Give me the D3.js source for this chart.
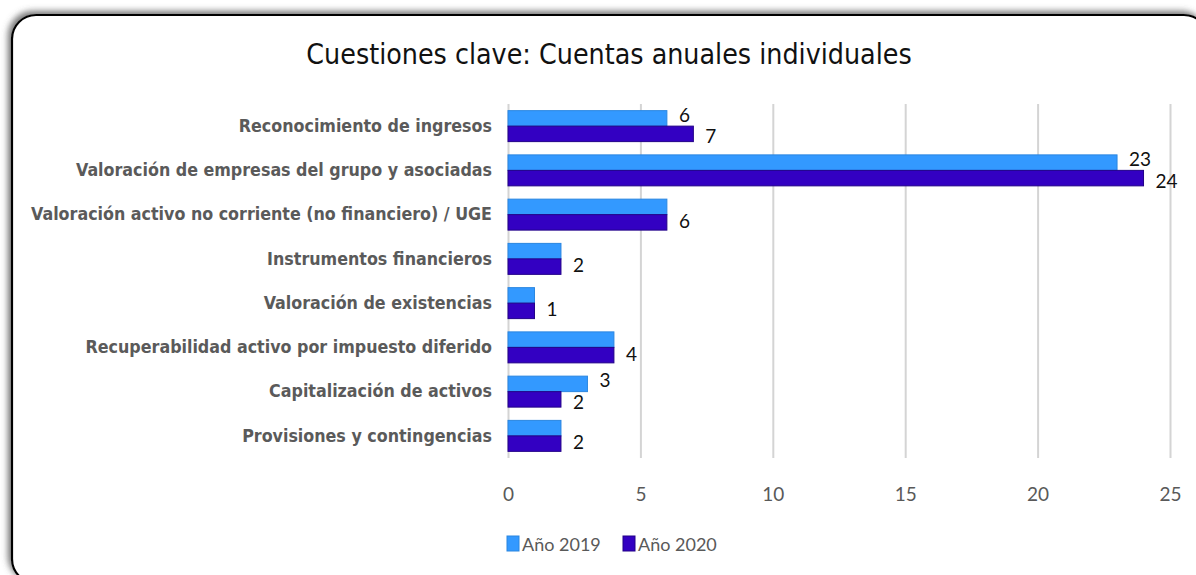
<!DOCTYPE html>
<html>
<head>
<meta charset="utf-8">
<script src="https://cdn.jsdelivr.net/npm/d3@7/dist/d3.min.js"></script>
<style>
  html, body { margin: 0; padding: 0; background: #fff; }
  svg { display: block; }
</style>
</head>
<body>
<svg id="chart" width="1196" height="575"></svg>
<script>
// Key audit matters: individual annual accounts
const title = "Cuestiones clave: Cuentas anuales individuales";
const categories = [
  "Reconocimiento de ingresos",
  "Valoración de empresas del grupo y asociadas",
  "Valoración activo no corriente (no financiero) / UGE",
  "Instrumentos financieros",
  "Valoración de existencias",
  "Recuperabilidad activo por impuesto diferido",
  "Capitalización de activos",
  "Provisiones y contingencias"
];
const seriesNames = ["Año 2019", "Año 2020"];
const values2019 = [6, 23, 6, 2, 1, 4, 3, 2];
const values2020 = [7, 24, 6, 2, 1, 4, 2, 2];
const xTicks = [0, 5, 10, 15, 20, 25];
const colors = ["#3399ff", "#3300c2"];
const strokes = ["#2a86e0", "#220088"];

const svg = d3.select("#chart");

// frame with soft shadow
const defs = svg.append("defs");
const f = defs.append("filter").attr("id", "shadow")
  .attr("x", "-5%").attr("y", "-5%").attr("width", "110%").attr("height", "110%");
f.append("feDropShadow").attr("dx", -3).attr("dy", -3)
  .attr("stdDeviation", 3).attr("flood-color", "#555").attr("flood-opacity", 0.8);

svg.append("rect")
  .attr("x", 12).attr("y", 15)
  .attr("width", 1196).attr("height", 568)
  .attr("rx", 24).attr("ry", 24)
  .attr("fill", "#fff").attr("stroke", "#000").attr("stroke-width", 2.2)
  .attr("filter", "url(#shadow)");

// title
svg.append("text")
  .attr("x", 609).attr("y", 64)
  .attr("text-anchor", "middle")
  .attr("font-family", "'DejaVu Sans Condensed', 'DejaVu Sans', sans-serif")
  .attr("font-stretch", "condensed")
  .attr("font-size", 28.3)
  .attr("fill", "#111")
  .text(title);

const plot = { left: 508, right: 1170, top: 104, bottom: 458 };

const x = d3.scaleLinear().domain([0, 25]).range([plot.left, plot.right]);
const y = d3.scaleBand().domain(categories).range([plot.top, plot.bottom]).paddingInner(0.3).paddingOuter(0.15);
const ySub = d3.scaleBand().domain(seriesNames).range([0, y.bandwidth()]);

// vertical gridlines via axis
const grid = svg.append("g")
  .attr("transform", `translate(0,${plot.bottom})`)
  .call(d3.axisBottom(x).tickValues(xTicks).tickSize(-(plot.bottom - plot.top)).tickFormat(""));
grid.select(".domain").remove();
grid.selectAll(".tick line").attr("stroke", "#d4d4d4").attr("stroke-width", 2);

// x tick labels
const xAxis = svg.append("g")
  .attr("transform", `translate(0,${plot.bottom})`)
  .call(d3.axisBottom(x).tickValues(xTicks).tickSize(0).tickPadding(30).tickFormat(d3.format("d")));
xAxis.select(".domain").remove();
xAxis.selectAll("text")
  .attr("font-family", "Lato, 'Open Sans', sans-serif")
  .attr("font-size", 19)
  .attr("fill", "#595959");

// category labels
const yAxis = svg.append("g")
  .attr("transform", `translate(${plot.left - 16},0)`)
  .call(d3.axisLeft(y).tickSize(0).tickPadding(0));
yAxis.select(".domain").remove();
yAxis.selectAll("text")
  .attr("font-family", "'DejaVu Sans Condensed', 'DejaVu Sans', sans-serif")
  .attr("font-stretch", "condensed")
  .attr("font-weight", "bold")
  .attr("font-size", 17.7)
  .attr("fill", "#5a5a5a");

// bars
const rows = categories.map((c, i) => ({ cat: c, vals: [values2019[i], values2020[i]] }));
const groups = svg.append("g").selectAll("g")
  .data(rows).join("g")
  .attr("transform", d => `translate(0,${y(d.cat)})`);

groups.selectAll("rect")
  .data(d => d.vals.map((v, k) => ({ v, k })))
  .join("rect")
  .attr("x", x(0))
  .attr("y", d => ySub(seriesNames[d.k]))
  .attr("width", d => x(d.v) - x(0))
  .attr("height", ySub.bandwidth())
  .attr("fill", d => colors[d.k])
  .attr("stroke", d => strokes[d.k])
  .attr("stroke-width", 1);

// value labels (one label when both years coincide)
groups.selectAll("text.val")
  .data(d => {
    const [a, b] = d.vals;
    if (a === b) return [{ v: b, k: 1, dy: -2 }];
    return [{ v: a, k: 0, dy: -4 }, { v: b, k: 1, dy: 2 }];
  })
  .join("text")
  .attr("class", "val")
  .attr("x", d => x(d.v) + 12)
  .attr("y", d => ySub(seriesNames[d.k]) + ySub.bandwidth() / 2 + d.dy)
  .attr("dominant-baseline", "central")
  .attr("font-family", "Lato, 'Open Sans', sans-serif")
  .attr("font-size", 19)
  .attr("fill", "#111")
  .text(d => d.v);

// legend
const legend = svg.append("g").attr("transform", "translate(507,536)");
const legX = [0, 116];
seriesNames.forEach((name, k) => {
  const g = legend.append("g").attr("transform", `translate(${legX[k]},0)`);
  g.append("rect").attr("width", 12).attr("height", 15)
    .attr("fill", colors[k]).attr("stroke", strokes[k]).attr("stroke-width", 1);
  g.append("text").attr("x", 15).attr("y", 14.5)
    .attr("font-family", "Lato, 'Open Sans', sans-serif")
    .attr("font-size", 18)
    .attr("fill", "#595959")
    .text(name);
});
</script>
</body>
</html>
